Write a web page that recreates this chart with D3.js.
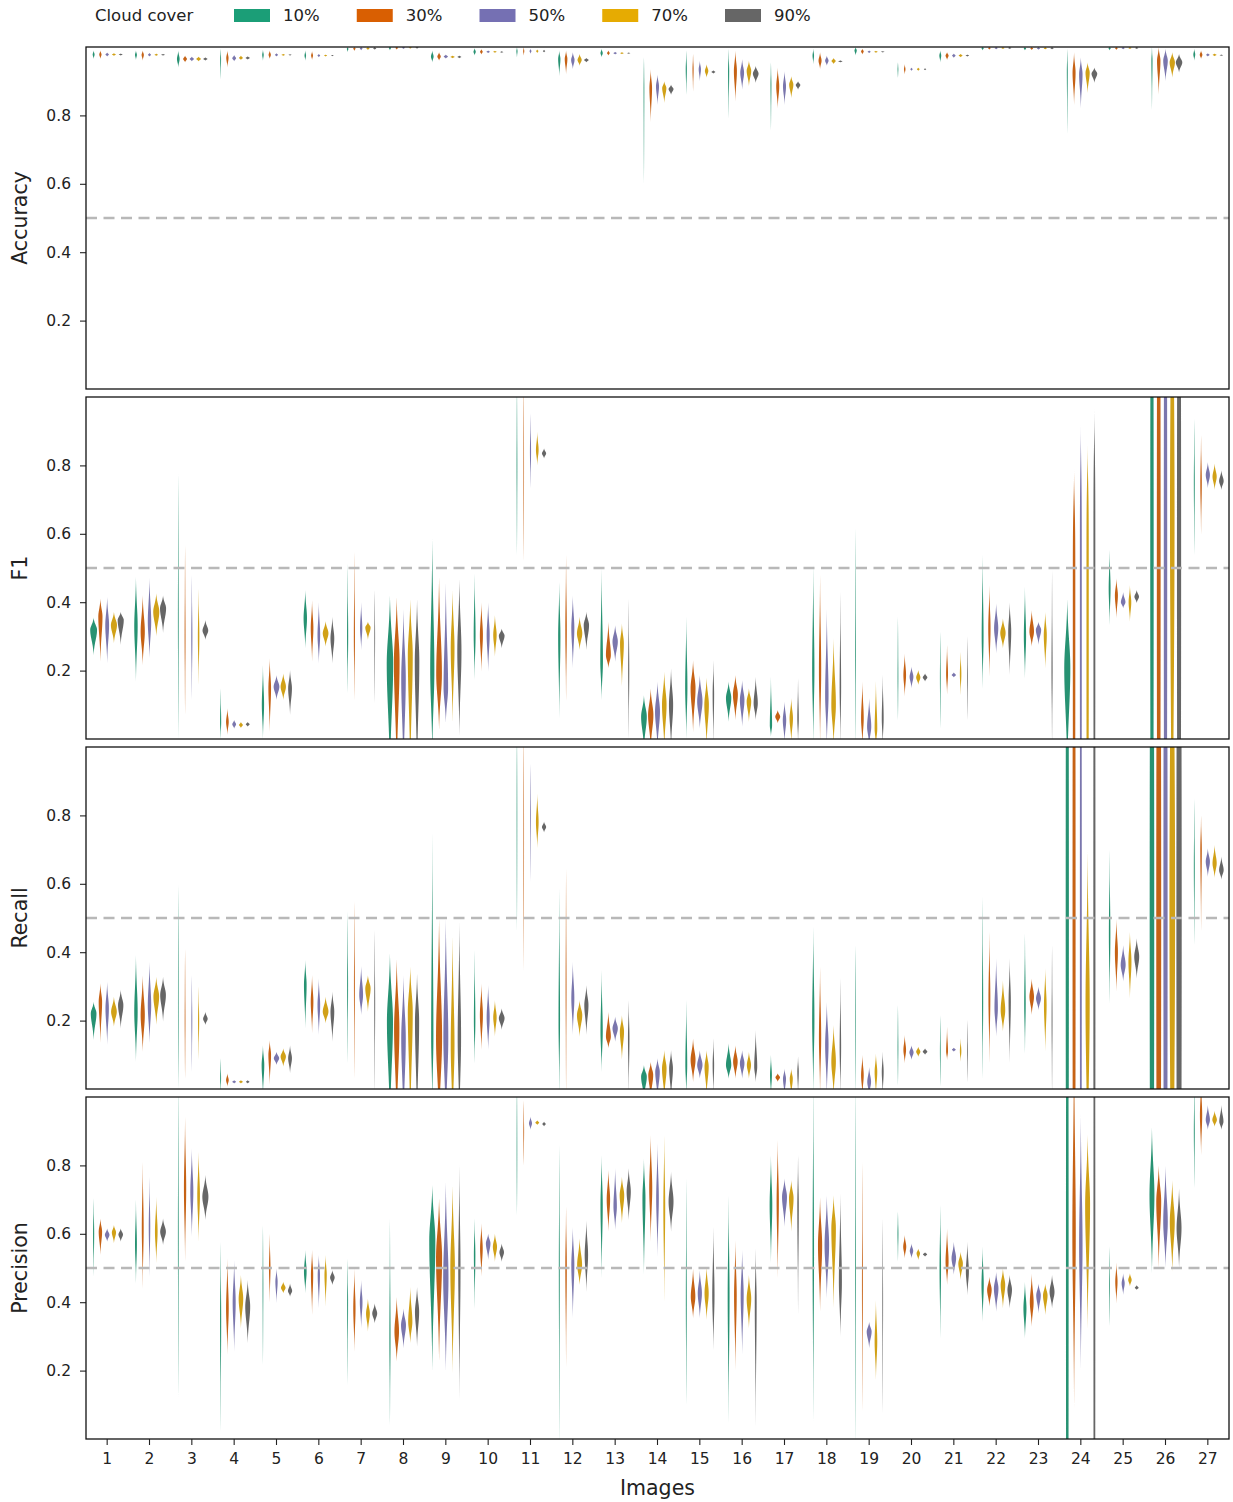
<!DOCTYPE html>
<html>
<head>
<meta charset="utf-8">
<script src="https://cdn.jsdelivr.net/npm/d3@7"></script>
<style>
  body { margin: 0; background: #fff; }
  text { font-family: "DejaVu Sans", sans-serif; fill: #222; }
</style>
</head>
<body>
<svg id="chart" width="1233" height="1502"></svg>
<script>
// ---- categories and labels ----
const images = ["1","2","3","4","5","6","7","8","9","10","11","12","13","14","15","16","17","18","19","20","21","22","23","24","25","26","27"];
const coverLevels = ["10%", "30%", "50%", "70%", "90%"];
const coverColors = ["#1b9e77", "#d95f02", "#7570b3", "#e6ab02", "#666666"];
const metricNames = ["Accuracy", "F1", "Recall", "Precision"];
const yTicks = [0.2, 0.4, 0.6, 0.8];
const referenceLine = 0.5;

// ---- violin summaries per image, one entry per cloud cover level ----
// each entry: [lowest value, densest value, highest value, relative peak density, (optional) flatness]
const accuracy = [
  [[0.965,0.978,0.99,0.25],[0.965,0.978,0.99,0.3],[0.972,0.978,0.984,0.45],[0.974,0.978,0.982,0.5],[0.975,0.978,0.981,0.5]],
  [[0.962,0.977,0.99,0.25],[0.96,0.977,0.99,0.3],[0.972,0.977,0.983,0.4],[0.974,0.977,0.981,0.45],[0.975,0.977,0.98,0.5]],
  [[0.94,0.965,0.99,0.35],[0.955,0.965,0.975,0.5],[0.958,0.965,0.972,0.55],[0.958,0.965,0.972,0.6],[0.96,0.965,0.97,0.55]],
  [[0.905,0.965,0.995,0.12],[0.94,0.968,0.99,0.3],[0.958,0.967,0.977,0.5],[0.962,0.968,0.975,0.5],[0.963,0.968,0.973,0.55]],
  [[0.96,0.977,0.992,0.2],[0.965,0.977,0.99,0.3],[0.972,0.977,0.982,0.4],[0.974,0.977,0.98,0.45],[0.975,0.977,0.979,0.4]],
  [[0.96,0.975,0.99,0.2],[0.962,0.975,0.988,0.25],[0.97,0.975,0.98,0.35],[0.972,0.975,0.978,0.4],[0.973,0.975,0.977,0.35]],
  [[0.985,0.995,1.0,0.2],[0.988,0.996,1.0,0.3],[0.99,0.996,1.0,0.35],[0.991,0.996,1.0,0.4],[0.992,0.996,1.0,0.4]],
  [[0.99,0.998,1.0,0.3],[0.992,0.998,1.0,0.35],[0.994,0.998,1.0,0.4],[0.995,0.998,1.0,0.4],[0.995,0.998,1.0,0.4]],
  [[0.955,0.972,0.99,0.35],[0.96,0.972,0.985,0.45],[0.966,0.972,0.978,0.55],[0.967,0.971,0.975,0.55],[0.967,0.971,0.975,0.5]],
  [[0.975,0.986,0.997,0.3],[0.978,0.986,0.994,0.35],[0.982,0.986,0.99,0.45],[0.983,0.986,0.989,0.45],[0.983,0.985,0.988,0.4]],
  [[0.97,0.988,1.0,0.15],[0.975,0.988,1.0,0.15],[0.98,0.988,0.995,0.25],[0.982,0.988,0.993,0.3],[0.984,0.988,0.992,0.3]],
  [[0.915,0.965,0.99,0.3],[0.92,0.965,0.99,0.35],[0.935,0.962,0.985,0.45],[0.945,0.962,0.98,0.55],[0.955,0.962,0.968,0.6]],
  [[0.97,0.982,0.995,0.3],[0.975,0.982,0.99,0.35],[0.978,0.982,0.986,0.45],[0.979,0.982,0.985,0.45],[0.98,0.982,0.984,0.4]],
  [[0.6,0.88,0.97,0.1],[0.78,0.88,0.935,0.35],[0.83,0.885,0.92,0.4],[0.836,0.88,0.9,0.55],[0.86,0.877,0.89,0.65]],
  [[0.86,0.935,0.99,0.15],[0.87,0.935,0.98,0.15],[0.9,0.935,0.96,0.3],[0.91,0.93,0.95,0.45],[0.922,0.927,0.932,0.5]],
  [[0.79,0.93,0.995,0.15],[0.84,0.93,0.99,0.4],[0.875,0.925,0.965,0.5],[0.885,0.93,0.96,0.6],[0.895,0.922,0.945,0.75]],
  [[0.755,0.89,0.955,0.12],[0.82,0.885,0.94,0.4],[0.83,0.885,0.93,0.4],[0.85,0.89,0.915,0.55],[0.875,0.889,0.9,0.6]],
  [[0.95,0.975,0.995,0.2],[0.935,0.96,0.985,0.4],[0.945,0.96,0.975,0.45],[0.95,0.959,0.968,0.55],[0.955,0.958,0.961,0.55]],
  [[0.975,0.99,1.0,0.3],[0.978,0.987,0.995,0.35],[0.982,0.986,0.99,0.4],[0.983,0.986,0.989,0.45],[0.984,0.986,0.988,0.45]],
  [[0.91,0.935,0.955,0.1],[0.92,0.935,0.95,0.2],[0.93,0.935,0.94,0.3],[0.93,0.935,0.94,0.35],[0.932,0.935,0.938,0.3]],
  [[0.955,0.975,0.99,0.25],[0.962,0.975,0.985,0.4],[0.968,0.975,0.981,0.45],[0.97,0.975,0.98,0.5],[0.972,0.975,0.978,0.45]],
  [[0.99,0.997,1.0,0.3],[0.992,0.997,1.0,0.35],[0.993,0.997,1.0,0.4],[0.994,0.997,1.0,0.4],[0.994,0.997,1.0,0.4]],
  [[0.99,0.996,1.0,0.3],[0.991,0.996,1.0,0.35],[0.992,0.996,1.0,0.4],[0.993,0.996,1.0,0.4],[0.993,0.996,1.0,0.4]],
  [[0.745,0.93,0.995,0.12],[0.83,0.925,0.985,0.4],[0.82,0.92,0.97,0.45],[0.865,0.925,0.955,0.55],[0.895,0.922,0.94,0.75]],
  [[0.99,0.997,1.0,0.3],[0.991,0.997,1.0,0.35],[0.993,0.997,1.0,0.4],[0.994,0.997,1.0,0.4],[0.994,0.997,1.0,0.4]],
  [[0.815,0.96,1.0,0.15],[0.86,0.96,1.0,0.45],[0.9,0.96,0.995,0.6],[0.91,0.955,0.985,0.7],[0.925,0.955,0.98,0.85]],
  [[0.96,0.978,0.995,0.25],[0.965,0.977,0.99,0.35],[0.972,0.977,0.982,0.45],[0.973,0.977,0.981,0.5],[0.974,0.976,0.978,0.45]]
];

const f1 = [
  [[0.245,0.319,0.355,0.9],[0.226,0.358,0.411,0.55],[0.221,0.333,0.416,0.5],[0.28,0.333,0.372,0.8],[0.275,0.348,0.372,0.8]],
  [[0.168,0.33,0.475,0.45],[0.216,0.314,0.421,0.55],[0.236,0.343,0.472,0.45],[0.30,0.372,0.426,0.8],[0.31,0.382,0.42,0.8]],
  [[0,0.35,0.777,0.1],[0.07,0.3,0.567,0.12],[0.114,0.3,0.48,0.15],[0.158,0.3,0.44,0.2],[0.29,0.317,0.348,0.75]],
  [[0,0.05,0.148,0.15],[0.012,0.05,0.09,0.35],[0.03,0.043,0.056,0.5],[0.032,0.041,0.05,0.5],[0.036,0.043,0.05,0.5]],
  [[0,0.1,0.216,0.3],[0.02,0.148,0.236,0.35],[0.114,0.153,0.187,0.75],[0.114,0.153,0.192,0.7],[0.07,0.148,0.202,0.5]],
  [[0.265,0.353,0.436,0.45],[0.226,0.324,0.406,0.35],[0.221,0.304,0.40,0.35],[0.27,0.309,0.345,0.75],[0.221,0.294,0.358,0.5]],
  [[0.134,0.3,0.514,0.15],[0.114,0.3,0.548,0.15],[0.26,0.324,0.40,0.3],[0.29,0.326,0.343,0.7],[0.104,0.3,0.436,0.1]],
  [[-0.12,0.22,0.42,0.85],[-0.12,0.226,0.416,0.75],[-0.12,0.177,0.38,0.6],[-0.12,0.245,0.41,0.65],[-0.12,0.226,0.41,0.6]],
  [[-0.05,0.2,0.59,0.55],[0.026,0.19,0.475,0.75],[0.046,0.15,0.46,0.6],[0.046,0.265,0.436,0.5],[0.007,0.255,0.47,0.55]],
  [[0.173,0.304,0.484,0.25],[0.197,0.304,0.40,0.4],[0.197,0.304,0.40,0.4],[0.24,0.304,0.363,0.45],[0.265,0.302,0.323,0.75]],
  [[0.538,0.8,1.05,0.1],[0.518,0.8,1.05,0.08],[0.733,0.84,0.952,0.15],[0.80,0.845,0.898,0.35],[0.82,0.835,0.85,0.55]],
  [[0.06,0.30,0.46,0.3],[0.11,0.32,0.538,0.2],[0.207,0.324,0.42,0.4],[0.26,0.309,0.358,0.7],[0.26,0.333,0.372,0.7]],
  [[0.114,0.226,0.50,0.35],[0.207,0.245,0.343,0.65],[0.226,0.285,0.333,0.7],[0.153,0.28,0.338,0.5],[0,0.2,0.41,0.15]],
  [[-0.03,0.065,0.128,0.75],[-0.03,0.07,0.148,0.7],[-0.03,0.08,0.168,0.65],[-0.03,0.10,0.197,0.6],[-0.03,0.10,0.207,0.55]],
  [[0,0.15,0.358,0.3],[0.02,0.148,0.23,0.65],[0.03,0.11,0.187,0.7],[-0.02,0.10,0.18,0.6],[-0.02,0.13,0.23,0.2]],
  [[0.05,0.12,0.168,0.7],[0.055,0.13,0.187,0.65],[0.036,0.114,0.172,0.6],[0.05,0.11,0.148,0.6],[0.055,0.104,0.182,0.55]],
  [[0.007,0.04,0.182,0.3],[0.046,0.065,0.085,0.65],[-0.01,0.055,0.11,0.45],[-0.01,0.06,0.12,0.45],[-0.01,0.06,0.177,0.2]],
  [[-0.02,0.2,0.51,0.3],[-0.02,0.2,0.48,0.3],[-0.02,0.128,0.38,0.45],[-0.02,0.10,0.295,0.6],[-0.02,0.15,0.43,0.2]],
  [[-0.02,0.25,0.616,0.1],[-0.02,0.06,0.168,0.35],[-0.02,0.036,0.12,0.55],[-0.02,0.03,0.17,0.35],[-0.02,0.06,0.187,0.25]],
  [[0.055,0.18,0.358,0.1],[0.124,0.187,0.25,0.35],[0.148,0.182,0.212,0.5],[0.158,0.18,0.202,0.55],[0.168,0.18,0.192,0.6]],
  [[0.03,0.18,0.314,0.1],[0.13,0.19,0.275,0.25],[0.18,0.187,0.195,0.55],[0.128,0.19,0.255,0.2],[0.055,0.18,0.30,0.1]],
  [[0.148,0.30,0.538,0.25],[0.182,0.324,0.45,0.3],[0.25,0.324,0.397,0.55],[0.265,0.31,0.353,0.7],[0.187,0.314,0.40,0.4]],
  [[0.177,0.30,0.445,0.3],[0.27,0.314,0.377,0.6],[0.275,0.319,0.343,0.7],[0.206,0.304,0.372,0.4],[-0.02,0.2,0.494,0.15]],
  [[-0.1,0.207,0.41,0.8],[-0.4,0.35,0.79,0.33,6],[-0.4,0.4,0.92,0.25,6],[-0.4,0.4,0.864,0.3,6],[-0.4,0.45,0.967,0.25,6]],
  [[0.333,0.44,0.553,0.25],[0.353,0.42,0.47,0.4],[0.382,0.40,0.43,0.6],[0.343,0.40,0.45,0.35],[0.397,0.416,0.436,0.6]],
  [[-3,0.5,4,0.45],[-3,0.5,4,0.5],[-3,0.5,4,0.45],[-0.8,0.65,2,0.6],[-3,0.5,4,0.55]],
  [[0.538,0.75,0.937,0.12],[0.597,0.75,0.889,0.2],[0.733,0.772,0.81,0.55],[0.728,0.767,0.806,0.55],[0.728,0.754,0.786,0.6]]
];

const recall = [
  [[0.143,0.221,0.255,0.75],[0.134,0.255,0.309,0.45],[0.129,0.236,0.314,0.45],[0.182,0.226,0.27,0.75],[0.177,0.245,0.29,0.7]],
  [[0.08,0.226,0.392,0.45],[0.109,0.216,0.333,0.55],[0.134,0.245,0.372,0.45],[0.187,0.27,0.328,0.75],[0.197,0.275,0.328,0.75]],
  [[0,0.25,0.597,0.08],[0.03,0.2,0.41,0.1],[0.05,0.2,0.333,0.12],[0.085,0.2,0.30,0.15],[0.187,0.205,0.226,0.6]],
  [[-0.01,0.03,0.09,0.12],[0.007,0.026,0.046,0.35],[0.016,0.021,0.026,0.5],[0.016,0.021,0.026,0.5],[0.016,0.021,0.026,0.45]],
  [[-0.02,0.07,0.128,0.35],[0.012,0.10,0.143,0.35],[0.07,0.09,0.109,0.7],[0.065,0.095,0.119,0.7],[0.046,0.09,0.128,0.5]],
  [[0.177,0.304,0.377,0.35],[0.163,0.255,0.333,0.35],[0.158,0.245,0.323,0.35],[0.192,0.226,0.27,0.75],[0.138,0.226,0.285,0.5]],
  [[0.075,0.3,0.52,0.12],[0.03,0.3,0.55,0.12],[0.216,0.275,0.36,0.5],[0.226,0.294,0.333,0.7],[-0.02,0.25,0.465,0.12]],
  [[-0.12,0.197,0.397,0.8],[-0.12,0.177,0.382,0.7],[-0.12,0.148,0.333,0.6],[-0.12,0.226,0.358,0.65],[-0.12,0.197,0.338,0.55]],
  [[-0.05,0.15,0.748,0.3],[-0.12,0.148,0.50,0.8],[-0.12,0.148,0.50,0.65],[-0.12,0.128,0.45,0.5],[-0.12,0.15,0.49,0.45]],
  [[0.075,0.2,0.406,0.2],[0.114,0.216,0.309,0.4],[0.114,0.21,0.304,0.4],[0.153,0.21,0.26,0.45],[0.173,0.207,0.236,0.75]],
  [[0.46,0.8,1.05,0.08],[0.343,0.75,1.05,0.08],[0.606,0.8,0.952,0.1],[0.704,0.78,0.864,0.35],[0.75,0.766,0.782,0.55]],
  [[-0.02,0.2,0.587,0.2],[-0.02,0.3,0.645,0.12],[0.158,0.265,0.372,0.4],[0.153,0.216,0.26,0.7],[0.158,0.245,0.304,0.55]],
  [[0.05,0.168,0.348,0.3],[0.119,0.153,0.226,0.65],[0.138,0.177,0.212,0.7],[0.085,0.168,0.216,0.55],[-0.02,0.15,0.26,0.2]],
  [[-0.03,0.036,0.07,0.75],[-0.03,0.041,0.08,0.65],[-0.03,0.05,0.09,0.6],[-0.03,0.06,0.114,0.6],[-0.03,0.06,0.114,0.5]],
  [[-0.02,0.07,0.26,0.25],[0.02,0.085,0.148,0.65],[0.03,0.07,0.114,0.7],[-0.02,0.065,0.114,0.55],[-0.02,0.07,0.148,0.2]],
  [[0.03,0.07,0.134,0.7],[0.03,0.08,0.128,0.6],[0.03,0.075,0.114,0.6],[0.03,0.07,0.109,0.55],[0.02,0.065,0.172,0.4]],
  [[-0.02,0.04,0.1,0.25],[0.021,0.034,0.046,0.6],[-0.02,0.03,0.06,0.4],[-0.02,0.03,0.06,0.4],[-0.02,0.05,0.095,0.2]],
  [[-0.02,0.2,0.475,0.3],[-0.02,0.15,0.358,0.3],[-0.02,0.13,0.255,0.45],[-0.02,0.08,0.187,0.6],[-0.02,0.12,0.324,0.2]],
  [[-0.02,0.2,0.42,0.08],[-0.02,0.04,0.10,0.35],[-0.02,0.021,0.065,0.5],[-0.02,0.05,0.104,0.35],[-0.02,0.05,0.109,0.25]],
  [[0.01,0.12,0.245,0.1],[0.075,0.114,0.158,0.35],[0.085,0.107,0.128,0.55],[0.094,0.109,0.124,0.55],[0.1,0.109,0.119,0.6]],
  [[0.007,0.11,0.216,0.1],[0.085,0.11,0.182,0.25],[0.109,0.115,0.121,0.5],[0.08,0.11,0.148,0.2],[0.02,0.11,0.202,0.1]],
  [[0.03,0.25,0.562,0.15],[0.075,0.265,0.46,0.25],[0.153,0.236,0.382,0.45],[0.168,0.23,0.318,0.6],[0.075,0.255,0.382,0.3]],
  [[0.104,0.25,0.455,0.2],[0.216,0.27,0.323,0.6],[0.23,0.265,0.30,0.65],[0.109,0.245,0.353,0.35],[-0.02,0.2,0.42,0.12]],
  [[-3,0.5,4,0.42],[-3,0.5,4,0.4],[-3,0.5,4,0.25],[-0.3,0.25,0.70,0.55],[-3,0.5,4,0.28]],
  [[0.25,0.45,0.70,0.2],[0.285,0.40,0.497,0.4],[0.314,0.363,0.421,0.65],[0.265,0.372,0.46,0.4],[0.323,0.387,0.441,0.65]],
  [[-3,0.5,4,0.6],[-3,0.5,4,0.65],[-3,0.5,4,0.55],[-1.2,0.55,2.2,0.75],[-3,0.5,4,0.7]],
  [[0.42,0.65,0.85,0.12],[0.46,0.7,0.80,0.2],[0.62,0.665,0.704,0.55],[0.617,0.66,0.714,0.55],[0.612,0.64,0.68,0.6]]
];

const precision = [
  [[0.475,0.6,0.704,0.15],[0.538,0.606,0.645,0.45],[0.577,0.597,0.616,0.6],[0.572,0.604,0.626,0.55],[0.577,0.598,0.616,0.6]],
  [[0.455,0.57,0.70,0.25],[0.44,0.616,0.81,0.25],[0.475,0.62,0.767,0.2],[0.514,0.606,0.708,0.35],[0.567,0.606,0.645,0.75]],
  [[0.12,0.6,1.05,0.1],[0.518,0.733,0.943,0.3],[0.591,0.723,0.85,0.4],[0.577,0.713,0.84,0.35],[0.64,0.708,0.772,0.8]],
  [[0.02,0.35,0.577,0.15],[0.246,0.382,0.528,0.35],[0.255,0.40,0.523,0.4],[0.323,0.41,0.48,0.6],[0.28,0.387,0.465,0.65]],
  [[0.216,0.45,0.625,0.1],[0.40,0.5,0.60,0.2],[0.397,0.46,0.499,0.3],[0.426,0.442,0.46,0.6],[0.416,0.433,0.455,0.55]],
  [[0.426,0.489,0.553,0.35],[0.362,0.48,0.553,0.3],[0.382,0.48,0.538,0.3],[0.387,0.48,0.538,0.3],[0.45,0.472,0.494,0.6]],
  [[0.158,0.4,0.528,0.12],[0.255,0.382,0.499,0.3],[0.323,0.40,0.465,0.35],[0.314,0.367,0.411,0.5],[0.338,0.367,0.397,0.65]],
  [[0.04,0.3,0.645,0.15],[0.226,0.314,0.416,0.6],[0.265,0.333,0.382,0.65],[0.28,0.343,0.445,0.55],[0.27,0.372,0.445,0.55]],
  [[0.197,0.58,0.743,0.8],[0.226,0.53,0.704,0.8],[0.197,0.47,0.753,0.7],[0.192,0.5,0.743,0.6],[0.114,0.5,0.801,0.3]],
  [[0.38,0.538,0.645,0.2],[0.475,0.557,0.631,0.35],[0.523,0.572,0.601,0.6],[0.518,0.562,0.601,0.55],[0.518,0.546,0.572,0.6]],
  [[0.655,0.85,1.05,0.08],[0.8,0.9,0.99,0.1],[0.904,0.923,0.943,0.4],[0.918,0.925,0.932,0.5],[0.914,0.921,0.928,0.45]],
  [[-0.02,0.5,0.86,0.12],[0.21,0.51,0.68,0.2],[0.353,0.509,0.62,0.4],[0.45,0.509,0.587,0.65],[0.43,0.538,0.64,0.45]],
  [[0.47,0.684,0.83,0.3],[0.606,0.70,0.787,0.45],[0.611,0.68,0.792,0.45],[0.631,0.713,0.767,0.6],[0.64,0.723,0.792,0.55]],
  [[0.48,0.704,0.82,0.4],[0.577,0.733,0.889,0.4],[0.533,0.704,0.865,0.35],[0.40,0.68,0.889,0.25],[0.606,0.694,0.782,0.65]],
  [[0.1,0.4,0.762,0.12],[0.353,0.416,0.499,0.6],[0.353,0.426,0.494,0.55],[0.348,0.426,0.504,0.55],[0.26,0.42,0.62,0.3]],
  [[0.046,0.42,0.713,0.25],[0.2,0.42,0.582,0.35],[0.246,0.42,0.553,0.4],[0.323,0.41,0.48,0.6],[0.036,0.40,0.557,0.25]],
  [[0.514,0.684,0.83,0.35],[0.469,0.694,0.874,0.3],[0.62,0.708,0.762,0.65],[0.606,0.704,0.757,0.6],[0.363,0.68,0.83,0.2]],
  [[0.05,0.55,1.05,0.2],[0.372,0.567,0.708,0.55],[0.411,0.567,0.713,0.6],[0.382,0.616,0.713,0.6],[0.30,0.46,0.718,0.4]],
  [[-0.02,0.5,1.05,0.1],[0.08,0.45,0.81,0.12],[0.265,0.314,0.343,0.65],[0.172,0.285,0.406,0.35],[0.075,0.4,0.645,0.1]],
  [[0.519,0.6,0.665,0.12],[0.528,0.562,0.597,0.4],[0.528,0.55,0.572,0.45],[0.523,0.543,0.557,0.45],[0.533,0.54,0.546,0.55]],
  [[0.294,0.5,0.684,0.2],[0.45,0.518,0.616,0.4],[0.48,0.528,0.577,0.6],[0.465,0.513,0.548,0.6],[0.42,0.489,0.577,0.4]],
  [[0.343,0.45,0.563,0.3],[0.387,0.436,0.475,0.6],[0.372,0.44,0.489,0.6],[0.382,0.45,0.499,0.6],[0.382,0.436,0.48,0.6]],
  [[0.294,0.382,0.46,0.4],[0.328,0.40,0.484,0.5],[0.367,0.42,0.455,0.6],[0.362,0.42,0.455,0.6],[0.382,0.43,0.48,0.65]],
  [[-3,0.5,4,0.35],[0.09,0.6,1.2,0.45],[0.2,0.567,0.95,0.45],[0.32,0.684,0.89,0.65],[-3,0.5,4,0.25]],
  [[0.33,0.45,0.563,0.1],[0.396,0.46,0.516,0.3],[0.421,0.455,0.485,0.4],[0.446,0.465,0.485,0.45],[0.436,0.442,0.45,0.5]],
  [[0.485,0.713,0.913,0.65],[0.499,0.694,0.8,0.65],[0.50,0.635,0.80,0.6],[0.489,0.635,0.757,0.65],[0.50,0.616,0.733,0.65]],
  [[0.733,0.9,1.05,0.12],[0.83,0.947,1.05,0.3],[0.904,0.933,0.977,0.55],[0.913,0.933,0.96,0.6],[0.904,0.928,0.977,0.55]]
];

const metricData = [accuracy, f1, recall, precision];

// ---- layout ----
const svg = d3.select("#chart");
const plotLeft = 86, plotRight = 1229;
const panelTops = [47, 397, 747, 1097];
const panelHeight = 342;

const x = d3.scaleBand().domain(images).range([plotLeft, plotRight]).paddingInner(0).paddingOuter(0);
const hue = d3.scaleBand().domain(coverLevels)
  .range([-0.4 * x.bandwidth(), 0.4 * x.bandwidth()]).paddingInner(0).paddingOuter(0);
const violinWidth = hue.bandwidth();

// violin fills use the palette slightly softened, as seaborn does for violin bodies
const fillColor = coverColors.map(c => { const h = d3.hsl(c); h.s *= 0.82; return h.formatHex(); });

// half-width of a violin at value v: smooth peak at the densest value, thin tail to the extremes
function halfWidth(v, d) {
  const [lo, mid, hi, peak] = d;
  const flat = d.length > 4 ? d[4] : 2;
  const t = v < mid ? (mid - v) / Math.max(mid - lo, 1e-6) : (v - mid) / Math.max(hi - mid, 1e-6);
  if (t >= 1) return 0;
  const core = 0.56 * violinWidth * peak * Math.exp(-3.2 * Math.pow(t, flat)) * (1 - Math.pow(t, 8));
  const tail = 0.3 * (1 - t * t);
  return Math.max(core, tail);
}

metricNames.forEach((name, mi) => {
  const top = panelTops[mi];
  const y = d3.scaleLinear().domain([0, 1]).range([top + panelHeight, top]);
  const g = svg.append("g");

  const clipId = "clip-" + mi;
  svg.append("clipPath").attr("id", clipId)
    .append("rect").attr("x", plotLeft).attr("y", top).attr("width", plotRight - plotLeft).attr("height", panelHeight);

  const violins = g.append("g").attr("clip-path", `url(#${clipId})`);
  const rows = metricData[mi];

  rows.forEach((row, ii) => {
    row.forEach((d, ci) => {
      const cx = x(images[ii]) + x.bandwidth() / 2 + hue(coverLevels[ci]) + violinWidth / 2;
      const vStart = Math.max(d[0], -0.03), vEnd = Math.min(d[2], 1.03);
      const n = 140;
      const samples = d3.range(n + 1).map(k => vStart + (vEnd - vStart) * k / n);
      if (d[1] > vStart && d[1] < vEnd) samples.push(d[1]);
      samples.sort((a, b) => a - b);
      const area = d3.area()
        .y(v => y(v))
        .x0(v => cx - halfWidth(v, d))
        .x1(v => cx + halfWidth(v, d))
        .curve(d3.curveLinear);
      violins.append("path").attr("d", area(samples)).attr("fill", fillColor[ci]);
    });
  });

  // reference line at 0.5
  g.append("line")
    .attr("x1", plotLeft).attr("x2", plotRight)
    .attr("y1", y(referenceLine)).attr("y2", y(referenceLine))
    .attr("stroke", "#b8b8b8").attr("stroke-width", 2.5).attr("stroke-dasharray", "11,6.5");

  // y axis
  const yAxis = g.append("g").attr("transform", `translate(${plotLeft},0)`)
    .call(d3.axisLeft(y).tickValues(yTicks).tickFormat(d3.format(".1f")).tickSize(6).tickPadding(9));
  yAxis.select(".domain").remove();
  yAxis.selectAll("line").attr("stroke", "#222").attr("stroke-width", 1.1);
  yAxis.selectAll("text").attr("font-size", "15.5px").style("font-family", "DejaVu Sans, sans-serif").attr("fill", "#222");

  // frame
  g.append("rect").attr("x", plotLeft).attr("y", top).attr("width", plotRight - plotLeft).attr("height", panelHeight)
    .attr("fill", "none").attr("stroke", "#111").attr("stroke-width", 1.3);

  // metric label
  g.append("text")
    .attr("transform", `translate(27,${top + panelHeight / 2}) rotate(-90)`)
    .attr("text-anchor", "middle").attr("font-size", "20.5px").text(name);

  if (mi === metricNames.length - 1) {
    const xAxis = g.append("g").attr("transform", `translate(0,${top + panelHeight})`)
      .call(d3.axisBottom(x).tickSize(6).tickPadding(8));
    xAxis.select(".domain").remove();
    xAxis.selectAll("line").attr("stroke", "#222").attr("stroke-width", 1.1);
    xAxis.selectAll("text").attr("font-size", "15.5px").style("font-family", "DejaVu Sans, sans-serif").attr("fill", "#222");
    g.append("text").attr("x", (plotLeft + plotRight) / 2).attr("y", 1495)
      .attr("text-anchor", "middle").attr("font-size", "20.5px").text("Images");
  }
});

// ---- legend ----
const legend = svg.append("g");
legend.append("text").attr("x", 95).attr("y", 21).attr("font-size", "16.5px").text("Cloud cover");
coverLevels.forEach((lvl, i) => {
  const lx = 234 + i * 122.75;
  legend.append("rect").attr("x", lx).attr("y", 9).attr("width", 36).attr("height", 13).attr("fill", coverColors[i]);
  legend.append("text").attr("x", lx + 49).attr("y", 21).attr("font-size", "16.5px").text(lvl);
});
</script>
</body>
</html>
